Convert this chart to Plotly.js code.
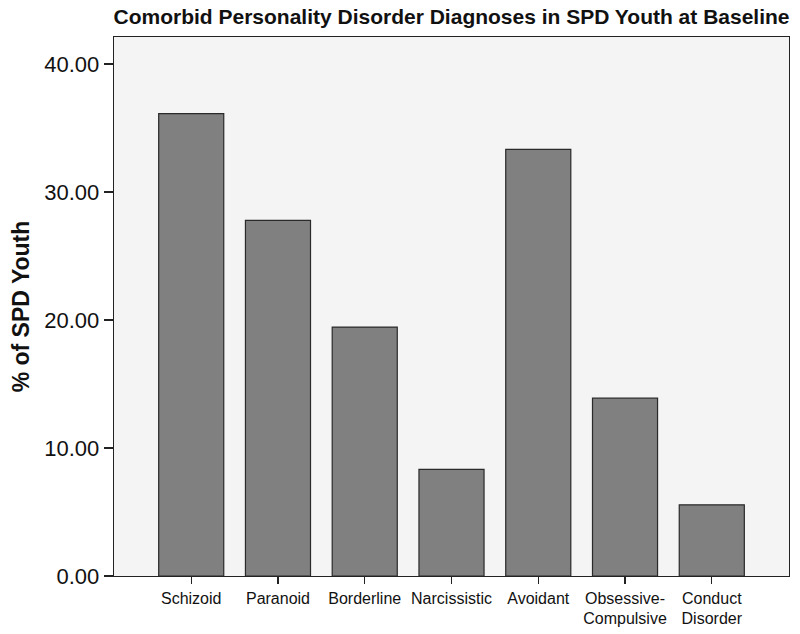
<!DOCTYPE html>
<html>
<head>
<meta charset="utf-8">
<script src="https://cdn.plot.ly/plotly-3.0.1.min.js"></script>
<style>html,body{margin:0;padding:0;background:#fff;}#chart{width:800px;height:634px;}</style>
</head>
<body>
<div id="chart"></div>
<script>
const categories = ["Schizoid", "Paranoid", "Borderline", "Narcissistic", "Avoidant", "Obsessive-<br>Compulsive", "Conduct<br>Disorder"];
const percentValues = [36.11, 27.78, 19.44, 8.33, 33.33, 13.89, 5.56];
const yTickValues = [0, 10, 20, 30, 40];
const yTickLabels = ["0.00", "10.00", "20.00", "30.00", "40.00"];

const trace = {
  type: "bar",
  x: categories,
  y: percentValues,
  width: 0.75,
  marker: {color: "#808080", line: {color: "#2a2a2a", width: 1.2}},
  hoverinfo: "x+y"
};

const layout = {
  width: 800,
  height: 634,
  margin: {l: 114, r: 11, t: 37, b: 58},
  paper_bgcolor: "#ffffff",
  plot_bgcolor: "#f4f4f4",
  font: {family: "Liberation Sans, Arial, sans-serif", color: "#111"},
  title: {
    text: "<b>Comorbid Personality Disorder Diagnoses in SPD Youth at Baseline</b>",
    font: {size: 21, color: "#111"},
    x: 0.5, xref: "paper", xanchor: "center",
    y: 1 - 17 / 634, yref: "container", yanchor: "middle"
  },
  showlegend: false,
  xaxis: {
    type: "category",
    range: [-0.89, 6.89],
    showline: true, linecolor: "#222", linewidth: 1.3, mirror: true,
    ticks: "outside", ticklen: 7, tickcolor: "#222", tickwidth: 1.3,
    showgrid: false, zeroline: false,
    tickfont: {size: 16, color: "#111"},
    fixedrange: true
  },
  yaxis: {
    range: [0, 42.1],
    tickvals: yTickValues,
    ticktext: yTickLabels,
    showline: true, linecolor: "#222", linewidth: 1.3, mirror: true,
    ticks: "outside", ticklen: 9, tickcolor: "#222", tickwidth: 1.3,
    showgrid: false, zeroline: false,
    tickfont: {size: 22, color: "#111"},
    title: {text: "<b>% of SPD Youth</b>", font: {size: 23, color: "#111"}, standoff: 8},
    fixedrange: true
  }
};

Plotly.newPlot("chart", [trace], layout, {displayModeBar: false, staticPlot: true});
</script>
</body>
</html>
